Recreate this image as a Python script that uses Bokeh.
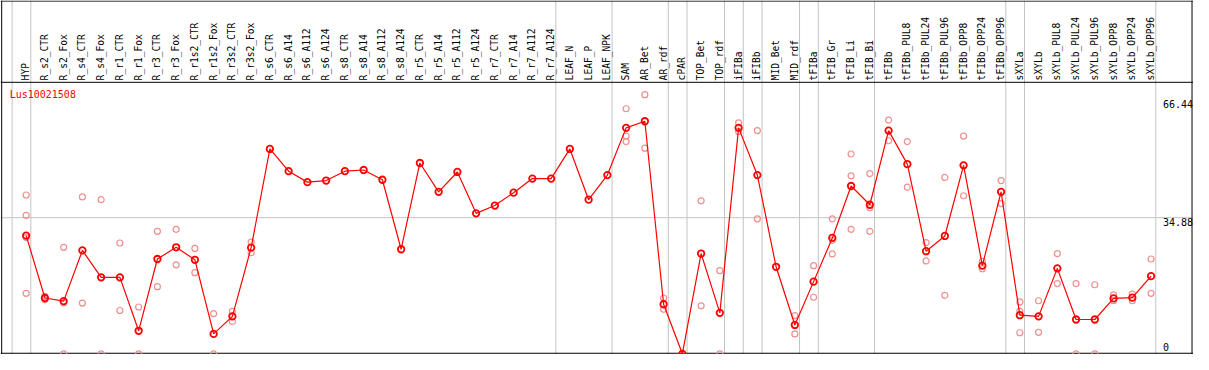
import math
from bokeh.plotting import figure
from bokeh.models import Range1d, ColumnDataSource
from bokeh.core.properties import value
from bokeh.embed import file_html
from bokeh.resources import INLINE

# ---------------- data ----------------
categories = [
    "HYP", "R_s2_CTR", "R_s2_Fox", "R_s4_CTR", "R_s4_Fox", "R_r1_CTR", "R_r1_Fox",
    "R_r3_CTR", "R_r3_Fox", "R_r1s2_CTR", "R_r1s2_Fox", "R_r3s2_CTR", "R_r3s2_Fox",
    "R_s6_CTR", "R_s6_A14", "R_s6_A112", "R_s6_A124", "R_s8_CTR", "R_s8_A14",
    "R_s8_A112", "R_s8_A124", "R_r5_CTR", "R_r5_A14", "R_r5_A112", "R_r5_A124",
    "R_r7_CTR", "R_r7_A14", "R_r7_A112", "R_r7_A124", "LEAF_N", "LEAF_P", "LEAF_NPK",
    "SAM", "AR_Bet", "AR_rdf", "cPAR", "TOP_Bet", "TOP_rdf", "iFIBa", "iFIBb",
    "MID_Bet", "MID_rdf", "tFIBa", "tFIB_Gr", "tFIB_Li", "tFIB_Bi", "tFIBb",
    "tFIBb_PUL8", "tFIBb_PUL24", "tFIBb_PUL96", "tFIBb_OPP8", "tFIBb_OPP24",
    "tFIBb_OPP96", "sXYLa", "sXYLb", "sXYLb_PUL8", "sXYLb_PUL24", "sXYLb_PUL96",
    "sXYLb_OPP8", "sXYLb_OPP24", "sXYLb_OPP96",
]

# number of samples in each group (groups separated by vertical grid lines)
group_sizes = [1, 28, 3, 3, 1, 2, 1, 1, 2, 1, 3, 7, 1, 7]

mean_values = [
    30.3, 14.3, 13.5, 26.5, 19.6, 19.6, 5.9, 24.3, 27.3, 24.1, 5.1, 9.6, 27.2,
    52.5, 46.8, 44.0, 44.4, 46.8, 47.1, 44.6, 26.8, 48.9, 41.5, 46.6, 36.0, 38.0,
    41.3, 44.9, 44.9, 52.5, 39.5, 45.8,
    57.9, 59.6, 12.7, 0.0, 25.7, 10.5, 57.9, 45.8, 22.3, 7.4, 18.5, 29.7, 43.0,
    38.2, 57.2,
    48.6, 26.3, 30.2, 48.3, 22.6, 41.5, 9.9, 9.6, 21.9, 8.8, 8.8, 14.2, 14.4, 19.9,
]

replicates = [
    [40.7, 35.5, 29.8, 15.5], [14.7, 13.9], [27.3, 13.1, 0.0], [40.2, 13.0],
    [39.5, 0.0], [28.4, 11.1], [12.0, 0.0], [31.4, 17.2], [31.9, 22.8],
    [27.0, 20.8], [10.3, 0.0], [10.9, 8.3], [28.6, 25.9],
    [], [], [], [], [], [], [], [], [], [], [], [], [], [], [], [], [], [], [],
    [62.8, 55.8, 54.4], [66.4, 52.7], [14.3, 11.4], [0.0, 0.0], [39.2, 12.3],
    [21.3, 0.0], [59.2, 57.0], [57.2, 34.6], [], [9.8, 5.1], [22.6, 14.5],
    [34.6, 29.1, 25.6], [51.2, 45.6, 31.9], [46.2, 37.4, 31.4], [59.9, 54.6],
    [54.4, 42.7], [28.5, 23.8], [45.2, 15.0], [55.8, 40.5], [23.7, 21.8],
    [44.4, 38.5], [13.3, 10.9, 5.4], [13.6, 5.5], [25.7, 18.0], [18.0, 0.0],
    [17.7, 0.0], [15.1, 13.6], [15.3, 13.6], [24.3, 15.5],
]

gene_name = "Lus10021508"
tick_values = [66.44, 34.88, 0.0]
tick_labels = ["66.44", "34.88", "0"]

# ---------------- layout (reference pixel geometry) ----------------
W, H = 1193, 354
REF_W, REF_H = 1209, 370
SX, SY = W / REF_W, H / REF_H
X0, DX = 26.0, 19.0          # ref px of first sample, spacing
Y0, PPU = 369.3, 4.079       # ref px of value 0, px per unit


def rx(px):
    return (px - X0) / DX


def ry(py):
    return (Y0 - py) / PPU


p = figure(width=W, height=H, output_backend="svg", toolbar_location=None,
           x_range=Range1d(rx(0), rx(REF_W)), y_range=Range1d(ry(REF_H), ry(0)),
           x_axis_type=None, y_axis_type=None, min_border=0)
p.min_border_left = p.min_border_right = p.min_border_top = p.min_border_bottom = 0
p.outline_line_color = None
p.background_fill_color = "white"
p.border_fill_color = "white"

idx = list(range(len(categories)))
grid_col = "#c4c4c4"

# vertical group separators
bounds = [-1]
acc = -1
for g in group_sizes:
    acc += g
    bounds.append(acc)
vx = [b + 0.25 for b in bounds]
p.segment(x0=vx, y0=[ry(0)] * len(vx), x1=vx, y1=[ry(369)] * len(vx),
          line_color=grid_col, line_width=1)

# horizontal grid at middle tick
p.segment(x0=[rx(1)], y0=[tick_values[1]], x1=[rx(1207)], y1=[tick_values[1]],
          line_color=grid_col, line_width=1)

# borders
p.segment(x0=[rx(0), rx(0), rx(1.2), rx(1207.5), rx(0)],
          y0=[ry(0.6), ry(85.5), ry(0), ry(0), ry(368.7)],
          x1=[rx(1209), rx(1209), rx(1.2), rx(1207.5), rx(1209)],
          y1=[ry(0.6), ry(85.5), ry(370), ry(370), ry(368.7)],
          line_color="black", line_width=1)

# replicate points
rep_x, rep_y = [], []
for i, reps in enumerate(replicates):
    for v in reps:
        rep_x.append(i)
        rep_y.append(v)
p.scatter(rep_x, rep_y, marker="circle", size=6, fill_color=None,
          line_color="#ee9090", line_width=1.2)

# mean line + points
src = ColumnDataSource(dict(x=idx, y=mean_values))
p.line("x", "y", source=src, line_color="#ff0000", line_width=1.2)
p.scatter("x", "y", source=src, marker="circle", size=6.5, fill_color=None,
          line_color="#ff0000", line_width=1.8)

mono = value("DejaVu Sans Mono")

# rotated sample labels in header
p.text(x=idx, y=[ry(83.5)] * len(idx), text=categories, angle=math.pi / 2,
       text_font=mono, text_font_size="9.6px", text_align="left",
       text_baseline="middle", text_color="black", x_offset=-0.5)

# gene name
p.text(x=[rx(9.3)], y=[ry(92.5)], text=[gene_name], text_font=mono,
       text_font_size="10px", text_align="left", text_baseline="top",
       text_color="#ff0000")

# value labels on right
offs = [5.5 * SY, 0.5 * SY, -2.5 * SY]
bases = ["top", "top", "bottom"]
for v, lab, o, b in zip(tick_values, tick_labels, offs, bases):
    p.text(x=[rx(1178)], y=[v], text=[lab], text_font=mono, text_font_size="10px",
           text_align="left", text_baseline=b, text_color="black", y_offset=o)

open("out.html", "w").write(file_html(p, INLINE))
